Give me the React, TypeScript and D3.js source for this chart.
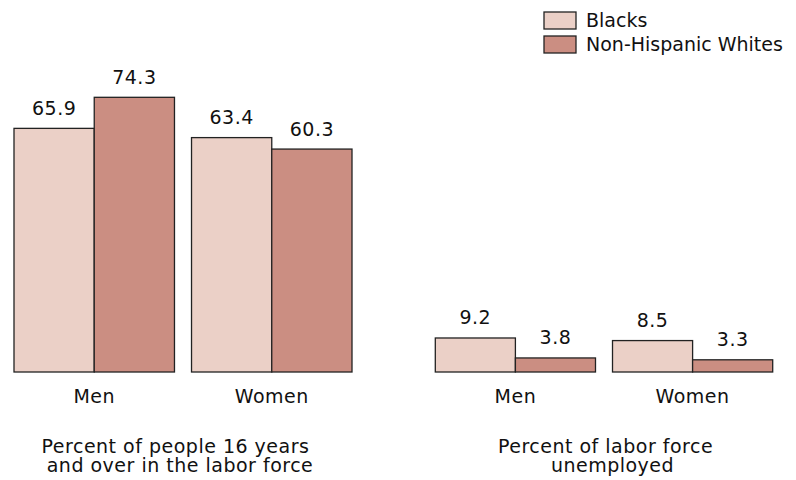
import { useEffect, useRef } from 'react'
import * as d3 from 'd3'

// data
const groups = ['Men', 'Women']
const series = ['Blacks', 'Non-Hispanic Whites']
const laborForce = [[65.9, 74.3], [63.4, 60.3]]   // [group][series]
const unemployed = [[9.2, 3.8], [8.5, 3.3]]
const panelTitles = [
  ['Percent of people 16 years', 'and over in the labor force'],
  ['Percent of labor force', 'unemployed'],
]
const colors = ['#ebd0c7', '#cb8e82']

const W = 796
const H = 480
const FONT = '"DejaVu Sans", Verdana, sans-serif'

export default function App(): JSX.Element {
  const ref = useRef<SVGSVGElement>(null)

  useEffect(() => {
    const el = ref.current
    if (!el) return
    const svg = d3.select(el)
    svg.selectAll('*').remove()

    const base = 372
    const y = d3.scaleLinear().domain([0, 100]).range([base, 2.3])

    const panels = [
      { values: laborForce, range: [14, 352] as [number, number], title: panelTitles[0], tx: [175.5, 180] },
      { values: unemployed, range: [435.3, 772.7] as [number, number], title: panelTitles[1], tx: [605.5, 612.5] },
    ]

    panels.forEach((p) => {
      const x0 = d3.scaleBand<string>().domain(groups).range(p.range).paddingInner(0.096)
      const x1 = d3.scaleBand<string>().domain(series).range([0, x0.bandwidth()])
      const g = svg.append('g')

      groups.forEach((grp, gi) => {
        const gg = g.append('g').attr('transform', `translate(${x0(grp)},0)`)
        series.forEach((s, si) => {
          const v = p.values[gi][si]
          gg.append('rect')
            .attr('x', x1(s)!)
            .attr('y', y(v))
            .attr('width', x1.bandwidth())
            .attr('height', base - y(v))
            .attr('fill', colors[si])
            .attr('stroke', '#222')
            .attr('stroke-width', 1.3)
          gg.append('text')
            .attr('x', x1(s)! + x1.bandwidth() / 2)
            .attr('y', y(v) - 13.5)
            .attr('text-anchor', 'middle')
            .attr('font-family', FONT)
            .attr('font-size', 19)
            .attr('letter-spacing', 0.5)
            .attr('fill', '#111')
            .text(v.toFixed(1))
        })
        gg.append('text')
          .attr('x', x0.bandwidth() / 2)
          .attr('y', 403)
          .attr('text-anchor', 'middle')
          .attr('font-family', FONT)
          .attr('font-size', 19)
          .attr('letter-spacing', 0.5)
          .attr('fill', '#111')
          .text(grp)
      })

      p.title.forEach((line, i) => {
        g.append('text')
          .attr('x', p.tx[i])
          .attr('y', 453 + i * 19)
          .attr('text-anchor', 'middle')
          .attr('font-family', FONT)
          .attr('font-size', 19)
          .attr('letter-spacing', 0.5)
          .attr('fill', '#111')
          .text(line)
      })
    })

    // legend
    const lg = svg.append('g').attr('transform', 'translate(544,12)')
    series.forEach((s, i) => {
      lg.append('rect')
        .attr('x', 0)
        .attr('y', i * 24)
        .attr('width', 32)
        .attr('height', 17)
        .attr('fill', colors[i])
        .attr('stroke', '#222')
        .attr('stroke-width', 1.3)
      lg.append('text')
        .attr('x', 42)
        .attr('y', i * 24 + 15)
        .attr('font-family', FONT)
        .attr('font-size', 19)
        .attr('fill', '#111')
        .text(s)
    })
  }, [])

  return (
    <svg
      ref={ref}
      width={W}
      height={H}
      viewBox={`0 0 ${W} ${H}`}
      style={{ display: 'block', position: 'absolute', left: 0, top: 0, background: '#fff' }}
    />
  )
}
